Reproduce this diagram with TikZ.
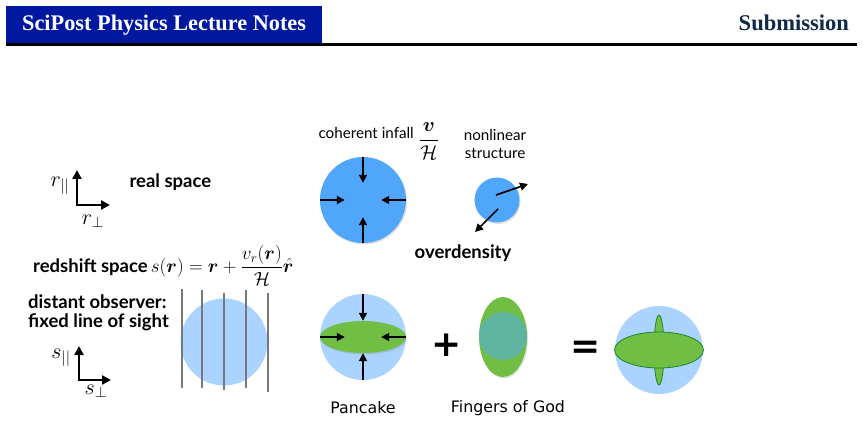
\RequirePackage{fix-cm}
\documentclass[tikz,border=0pt]{standalone}
\usepackage{amsmath}
\usepackage{bm}
\usepackage{fontspec}
\newfontfamily\gill{Lato}
\newfontfamily\verd{DejaVu Sans}
\newfontfamily\hdrfont{Liberation Serif}
\usetikzlibrary{arrows.meta,shadows,shapes.geometric}

\definecolor{scipostblue}{RGB}{0,24,160}
\definecolor{hdrnavy}{RGB}{14,42,72}
\definecolor{midblue}{RGB}{80,166,250}
\definecolor{paleblue}{RGB}{170,212,255}
\definecolor{pancgreen}{RGB}{112,190,68}
\definecolor{fogteal}{RGB}{95,180,160}
\definecolor{rimgreen}{RGB}{30,130,45}
\definecolor{losgray}{RGB}{120,120,120}

\tikzset{
  lbl/.style = {font = \gill\bfseries\fontsize{18.5}{20}\selectfont},
  note/.style = {font = \gill\fontsize{15.2}{18.5}\selectfont},
  capt/.style = {font = \verd\fontsize{15.8}{18}\selectfont},
  blob/.style = {circle, inner sep = 0pt, fill = #1},
  soft/.style = {drop shadow = {shadow xshift = 1pt, shadow yshift = -1.5pt,
                 opacity = .25}},
  infall/.style = {-{Triangle[length = 8pt, width = 8pt]}, line width = 1.7pt},
  axes/.style = {{Triangle[length = 9pt, width = 9pt]}-{Triangle[length = 9pt, width = 9pt]},
                 line width = 2.7pt},
  los/.style = {losgray, line width = 2.5pt}
}

\begin{document}
\begin{tikzpicture}[x = 1pt, y = -1pt]
  \useasboundingbox (0,0) rectangle (863,425);

  \fill [scipostblue] (6,6) rectangle (322,43);
  \node [anchor = base west, white, font = \hdrfont\bfseries\fontsize{22.3}{26}\selectfont,
         inner sep = 0pt] (journal) at (22,31) {SciPost Physics Lecture Notes};
  \node [anchor = base east, hdrnavy, font = \hdrfont\bfseries\fontsize{22.5}{26}\selectfont,
         inner sep = 0pt] (status) at (849,31) {Submission};
  \draw [line width = 2.5pt] (6,44.5) -- (857,44.5);

  \coordinate (rpar) at (77,170);
  \coordinate (rorig) at (77,205);
  \coordinate (rperp) at (110,205);
  \draw [axes] (rpar) -- (rorig) -- (rperp);
  \node [font = \fontsize{22}{26}\selectfont] (rparlbl) at (60,186) {$r_{||}$};
  \node [font = \fontsize{22}{26}\selectfont] (rperplbl) at (93,221) {$r_\perp$};
  \node [lbl, anchor = west] (real) at (126,182) {real space};

  \node [lbl, anchor = west, inner sep = 0pt] (redshift) at (33,265)
    {redshift space\fontsize{19}{21}\selectfont
     $\,s(\bm r) = \bm r + \dfrac{v_r(\bm r)}{\mathcal H}\hat{\bm r}$};

  \node [lbl, anchor = west, align = left, inner sep = 0pt,
         font = \gill\bfseries\fontsize{18.5}{19.5}\selectfont] (observer) at (28,313)
    {distant observer:\\fixed line of sight};

  \coordinate (spar) at (79,346);
  \coordinate (sorig) at (79,380);
  \coordinate (sperp) at (111,380);
  \draw [axes] (spar) -- (sorig) -- (sperp);
  \node [font = \fontsize{22}{26}\selectfont] (sparlbl) at (61,358) {$s_{||}$};
  \node [font = \fontsize{22}{26}\selectfont] (sperplbl) at (96,391) {$s_\perp$};

  \node [blob = paleblue, minimum size = 87pt] (zsphere) at (224,342) {};
  \foreach \lx/\ltop/\lbot in {182/289/388, 202/290/388, 224/293/390,
                               246/290/388, 268/293/392}
    \draw [los] (\lx,\ltop) -- (\lx,\lbot);

  \node [note, anchor = west] (infalltxt) at (315,133) {coherent infall};
  \node [font = \fontsize{20}{22}\selectfont] (vH) at (429,141) {$\dfrac{\bm v}{\mathcal H}$};
  \node [note, align = center] (nonlin) at (495,144) {nonlinear\\structure};

  \node [blob = midblue, soft, minimum size = 86pt] (big) at (363,200) {};
  \draw [infall] (big.north) -- ++(0,26);
  \draw [infall] (big.south) -- ++(0,-26);
  \draw [infall] (big.west) -- ++(25,0);
  \draw [infall] (big.east) -- ++(-25,0);

  \node [blob = midblue, soft, minimum size = 45pt] (small) at (497,200) {};
  \coordinate (outA) at (528,184);
  \coordinate (outB) at (475,232);
  \draw [infall] (496,195) -- (outA);
  \draw [infall] (498,209) -- (outB);
  \node [lbl] (overdens) at (463,253) {overdensity};

  \node [blob = paleblue, minimum size = 86pt] (pan) at (363,337) {};
  \node [ellipse, fill = pancgreen, soft, minimum width = 86pt, minimum height = 32pt,
         inner sep = 0pt] (panc) at (363,337) {};
  \draw [infall] (pan.north) -- (panc.north);
  \draw [infall] (pan.south) -- (panc.south);
  \draw [infall] (panc.west) -- ++(25,0);
  \draw [infall] (panc.east) -- ++(-25,0);
  \node [capt] (pancake) at (363,408) {Pancake};

  \node [font = \verd\bfseries\fontsize{36}{40}\selectfont] (plus) at (447,345) {+};

  \node [ellipse, fill = pancgreen, soft, minimum width = 48pt, minimum height = 80pt,
         inner sep = 0pt] (fog) at (503,337) {};
  \node [blob = fogteal, minimum size = 48pt] (fogcore) at (503,336) {};
  \node [capt] (fingers) at (508,408) {Fingers of God};

  \node [font = \verd\bfseries\fontsize{36}{40}\selectfont] (equals) at (586,350) {=};

  \node [blob = paleblue, minimum size = 88pt] (sum) at (659,350) {};
  \node [ellipse, fill = pancgreen, draw = rimgreen, line width = .8pt,
         minimum width = 10pt, minimum height = 70pt, inner sep = 0pt] (sumfog) at (659,350) {};
  \node [ellipse, fill = pancgreen, draw = rimgreen, line width = .8pt,
         minimum width = 89pt, minimum height = 36pt, inner sep = 0pt] (sumpan) at (659,350) {};
\end{tikzpicture}
\end{document}
